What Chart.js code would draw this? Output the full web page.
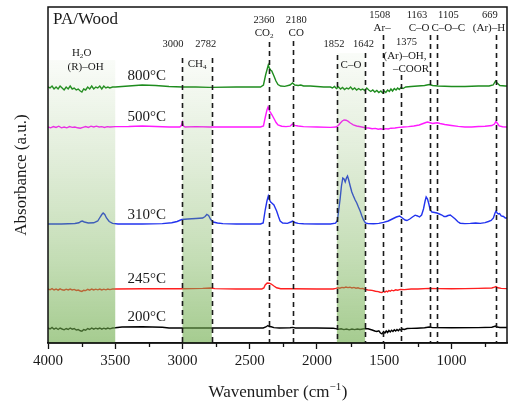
<!DOCTYPE html>
<html>
<head>
<meta charset="utf-8">
<script src="https://cdn.jsdelivr.net/npm/chart.js@4.4.1/dist/chart.umd.min.js"></script>
<style>
  html, body { margin: 0; padding: 0; background: #fff; }
  #wrap { width: 509px; height: 408px; }
</style>
</head>
<body>
<div id="wrap"><canvas id="c" width="509" height="408"></canvas></div>
<script>
// FTIR spectra of evolved gases from PA/Wood at different temperatures.
// Each spectrum: [wavenumber (cm-1), absorbance relative to its own baseline].
const temperatures = ['200°C', '245°C', '310°C', '500°C', '800°C'];
const offsets = [0.15, 0.54, 1.19, 2.16, 2.56];   // vertical stacking of the traces
const colors = ['#000000', '#ff1f1f', '#2233ee', '#ff1aff', '#1e8c1e'];

const spec200 = [
  [4000,0.00],[3985,-0.01],[3970,0.005],[3955,-0.012],[3940,0.0],[3925,-0.015],[3910,0.0],[3895,-0.01],
  [3880,-0.018],[3865,-0.005],[3850,-0.015],[3835,0.0],[3820,-0.012],[3805,-0.005],[3790,-0.02],[3775,-0.015],
  [3760,-0.028],[3748,-0.032],[3735,-0.015],[3720,-0.022],[3705,-0.005],[3690,-0.015],[3675,0.0],[3660,-0.012],
  [3645,-0.002],[3630,-0.01],[3615,0.0],[3600,-0.012],[3585,-0.002],[3570,-0.01],[3555,0.0],[3540,-0.008],
  [3520,0.0],[3500,0.002],[3450,0.01],[3300,0.012],[3150,0.008],[3100,0.0],[2900,0.0],[2600,0.0],
  [2400,0.0],[2380,0.01],[2365,0.025],[2355,0.015],[2340,0.012],[2320,0.004],[2280,0.0],[2200,0.002],
  [2180,0.006],[2160,0.0],[2000,0.0],[1880,-0.002],[1860,-0.006],[1840,-0.012],[1820,-0.008],[1800,-0.016],
  [1780,-0.01],[1760,-0.018],[1740,-0.01],[1720,-0.016],[1700,-0.01],[1680,-0.015],[1660,-0.01],[1645,-0.006],
  [1620,-0.008],[1590,-0.02],[1570,-0.03],[1555,-0.035],[1540,-0.028],[1528,-0.05],[1517,-0.058],[1505,-0.035],
  [1495,-0.05],[1485,-0.03],[1475,-0.045],[1465,-0.025],[1455,-0.04],[1445,-0.022],[1435,-0.035],[1425,-0.018],
  [1415,-0.03],[1405,-0.015],[1395,-0.028],[1385,-0.012],[1375,-0.022],[1365,-0.01],[1350,-0.015],[1330,-0.005],
  [1300,-0.004],[1257,-0.002],[1200,0.002],[1165,0.01],[1140,0.004],[1000,0.003],[800,0.004],[700,0.008],
  [672,0.02],[660,0.01],[640,0.005],[587,0.005]
];

const spec245 = [
  [4000,0.00],[3985,-0.008],[3970,0.004],[3955,-0.01],[3940,0.0],[3925,-0.012],[3910,0.002],[3895,-0.008],
  [3880,-0.012],[3865,-0.002],[3850,-0.01],[3835,0.0],[3820,-0.01],[3805,-0.004],[3790,-0.014],[3775,-0.01],
  [3760,-0.02],[3748,-0.024],[3735,-0.012],[3720,-0.016],[3705,-0.004],[3690,-0.012],[3675,0.0],[3660,-0.01],
  [3645,-0.002],[3630,-0.008],[3615,0.0],[3600,-0.01],[3585,-0.002],[3570,-0.008],[3555,0.0],[3540,-0.006],
  [3520,0.0],[3500,0.0],[3300,0.002],[3000,0.002],[2850,0.006],[2790,0.01],[2760,0.004],[2600,0.0],
  [2410,0.0],[2395,0.01],[2385,0.04],[2370,0.06],[2355,0.058],[2340,0.05],[2320,0.03],[2300,0.012],
  [2270,0.003],[2180,0.002],[2000,0.0],[1880,0.0],[1860,0.006],[1845,0.012],[1830,0.008],[1815,0.016],
  [1800,0.012],[1785,0.02],[1770,0.014],[1755,0.018],[1740,0.01],[1725,0.016],[1710,0.008],[1695,0.012],
  [1680,0.004],[1660,0.006],[1645,-0.004],[1620,-0.01],[1590,-0.014],[1565,-0.022],[1545,-0.026],[1530,-0.032],
  [1517,-0.036],[1505,-0.025],[1495,-0.032],[1485,-0.02],[1475,-0.028],[1465,-0.016],[1455,-0.022],[1445,-0.012],
  [1430,-0.018],[1415,-0.008],[1400,-0.012],[1380,-0.004],[1350,-0.006],[1300,0.0],[1250,0.0],[1165,0.006],
  [1100,0.004],[1000,0.003],[900,0.004],[800,0.006],[700,0.01],[680,0.018],[669,0.025],[655,0.012],
  [630,0.006],[587,0.004]
];

const spec310 = [
  [4000,0.0],[3900,0.0],[3800,0.005],[3770,0.012],[3755,0.025],[3745,0.03],[3730,0.02],[3700,0.01],
  [3660,0.012],[3630,0.03],[3612,0.07],[3600,0.095],[3590,0.11],[3578,0.095],[3565,0.06],[3545,0.025],
  [3520,0.006],[3480,0.0],[3300,0.0],[3150,0.004],[3080,0.012],[3040,0.025],[3005,0.045],[2960,0.05],
  [2900,0.055],[2850,0.06],[2832,0.075],[2819,0.095],[2806,0.085],[2790,0.045],[2772,0.02],[2740,0.01],
  [2700,0.004],[2600,0.0],[2420,0.0],[2400,0.01],[2385,0.14],[2372,0.23],[2362,0.28],[2354,0.245],
  [2344,0.22],[2336,0.21],[2320,0.19],[2310,0.16],[2300,0.13],[2285,0.07],[2274,0.03],[2255,0.01],
  [2220,0.006],[2195,0.02],[2180,0.03],[2165,0.015],[2140,0.006],[2100,0.002],[2000,0.0],[1900,0.0],
  [1862,0.008],[1848,0.035],[1838,0.14],[1828,0.25],[1818,0.38],[1808,0.46],[1799,0.45],[1790,0.42],
  [1781,0.46],[1773,0.48],[1764,0.44],[1753,0.38],[1741,0.32],[1729,0.28],[1716,0.24],[1704,0.21],
  [1692,0.17],[1679,0.13],[1666,0.08],[1654,0.04],[1640,0.012],[1620,0.004],[1580,0.002],[1540,0.006],
  [1505,0.016],[1470,0.03],[1440,0.05],[1410,0.07],[1386,0.08],[1365,0.06],[1345,0.04],[1331,0.035],
  [1310,0.05],[1290,0.07],[1270,0.088],[1252,0.08],[1238,0.07],[1222,0.09],[1208,0.15],[1196,0.23],
  [1188,0.27],[1178,0.25],[1168,0.2],[1158,0.14],[1145,0.12],[1125,0.115],[1108,0.11],[1090,0.1],
  [1071,0.09],[1055,0.075],[1040,0.075],[1025,0.085],[1009,0.09],[990,0.07],[972,0.05],[952,0.022],
  [935,0.008],[900,0.004],[860,0.006],[820,0.01],[786,0.006],[750,0.014],[725,0.025],[705,0.035],
  [688,0.06],[676,0.11],[668,0.13],[660,0.11],[652,0.1],[642,0.105],[630,0.08],[613,0.075],[600,0.06],
  [587,0.06]
];

const spec500 = [
  [4000,0.0],[3980,-0.008],[3960,0.004],[3940,-0.004],[3920,0.008],[3900,-0.008],[3880,0.0],[3860,-0.008],
  [3840,0.004],[3820,-0.004],[3800,0.0],[3780,-0.008],[3760,-0.012],[3740,-0.004],[3720,0.004],[3700,-0.004],
  [3680,0.008],[3660,0.0],[3640,0.008],[3620,0.0],[3600,0.004],[3580,-0.004],[3560,0.004],[3540,0.0],
  [3500,0.004],[3400,0.005],[3300,0.01],[3200,0.005],[3100,0.0],[3020,0.0],[3008,0.015],[3001,0.05],
  [2994,0.012],[2980,0.0],[2900,0.004],[2800,0.0],[2600,0.0],[2420,0.0],[2398,0.01],[2384,0.1],
  [2372,0.17],[2364,0.2],[2356,0.17],[2346,0.145],[2334,0.12],[2318,0.08],[2304,0.045],[2290,0.02],
  [2262,0.008],[2230,0.004],[2200,0.008],[2182,0.03],[2166,0.016],[2140,0.01],[2100,0.004],[2000,0.0],
  [1900,-0.004],[1860,0.0],[1842,0.015],[1826,0.04],[1812,0.06],[1798,0.07],[1784,0.068],[1770,0.058],
  [1752,0.04],[1730,0.022],[1705,0.01],[1675,0.002],[1642,-0.008],[1615,-0.01],[1590,-0.018],[1565,-0.014],
  [1545,-0.022],[1525,-0.018],[1507,-0.025],[1490,-0.016],[1470,-0.02],[1450,-0.012],[1420,-0.01],[1390,-0.004],
  [1359,0.0],[1320,0.004],[1280,0.01],[1240,0.02],[1210,0.035],[1190,0.045],[1178,0.05],[1165,0.045],
  [1140,0.035],[1120,0.04],[1105,0.042],[1085,0.035],[1050,0.025],[1000,0.015],[950,0.006],[900,0.0],
  [850,0.0],[800,0.005],[750,0.008],[700,0.015],[680,0.03],[670,0.055],[660,0.04],[645,0.01],[620,0.002],
  [587,0.0]
];

const spec800 = [
  [4000,0.00],[3985,-0.01],[3970,0.01],[3955,-0.02],[3940,0.0],[3925,-0.02],[3910,0.01],[3895,-0.01],
  [3880,-0.03],[3865,0.0],[3850,-0.02],[3835,0.01],[3820,-0.02],[3805,-0.01],[3790,-0.03],[3775,-0.02],
  [3760,-0.04],[3748,-0.05],[3735,-0.02],[3720,-0.03],[3705,0.0],[3690,-0.02],[3675,0.01],[3660,-0.02],
  [3645,0.0],[3630,-0.01],[3615,0.01],[3600,-0.02],[3585,0.01],[3570,-0.01],[3555,0.0],[3540,-0.01],
  [3520,0.0],[3500,0.0],[3400,0.01],[3300,0.02],[3200,0.015],[3100,0.005],[3000,0.0],[2900,0.0],
  [2800,-0.004],[2600,0.0],[2420,0.0],[2398,0.02],[2382,0.12],[2370,0.18],[2362,0.22],[2355,0.19],
  [2345,0.17],[2336,0.16],[2320,0.11],[2305,0.06],[2290,0.025],[2270,0.01],[2240,0.006],[2200,0.02],
  [2182,0.04],[2165,0.02],[2140,0.015],[2120,0.02],[2100,0.01],[2050,0.01],[2000,0.005],[1950,0.0],
  [1900,0.0],[1885,-0.01],[1870,0.005],[1855,-0.015],[1840,0.0],[1825,-0.02],[1810,-0.005],[1795,-0.025],
  [1780,-0.01],[1765,-0.02],[1750,0.0],[1735,-0.025],[1720,-0.01],[1705,-0.03],[1690,-0.015],[1675,-0.03],
  [1660,-0.02],[1645,-0.035],[1630,-0.01],[1615,-0.03],[1600,-0.045],[1585,-0.03],[1570,-0.05],[1555,-0.035],
  [1540,-0.055],[1525,-0.04],[1512,-0.06],[1500,-0.04],[1488,-0.055],[1475,-0.03],[1462,-0.045],[1450,-0.02],
  [1438,-0.04],[1425,-0.015],[1412,-0.03],[1400,-0.01],[1388,-0.025],[1375,-0.005],[1360,-0.015],[1340,0.0],
  [1300,0.005],[1250,0.01],[1200,0.015],[1165,0.025],[1140,0.015],[1100,0.01],[1000,0.005],[900,0.005],
  [800,0.01],[720,0.01],[690,0.02],[672,0.06],[660,0.04],[640,0.015],[600,0.01],[587,0.01]
];

const spectra = [spec200, spec245, spec310, spec500, spec800];

// Axis ticks (wavenumber, reversed axis)
const xMajorTicks = [4000, 3500, 3000, 2500, 2000, 1500, 1000];
const xMinorTicks = [3750, 3250, 2750, 2250, 1750, 1250, 750];

// Highlighted bands [from, to]
const bands = [[4000, 3500], [3000, 2782], [1852, 1642]];

// Assigned peak positions (dashed markers) and their labels ("|" toggles subscript)
const peakLines = [3000, 2782, 2360, 2180, 1852, 1642, 1508, 1375, 1163, 1105, 669];
const peakTexts = [
  ['3000'], ['2782'], ['2360', 'CO|2'], ['2180', 'CO'], ['1852'], ['1642'],
  ['1508', 'Ar–'], ['1375', '(Ar)–OH,', '–COOR'], ['1163', 'C–O'], ['1105', 'C–O–C'], ['669', '(Ar)–H']
];
const bandTexts = [['H|2|O', '(R)–OH'], ['CH|4'], ['C–O']];

const SERIF = '"Liberation Serif", "Times New Roman", serif';

// --- placement of annotation texts (pixel offsets relative to the marker line) ---
const peakLayout = {
  3000: { dx: -9.5, ys: [44], top: 58 },
  2782: { dx: -6, ys: [44], top: 58 },
  2360: { dx: -4.5, ys: [20, 33], top: 42 },
  2180: { dx: 3.5, ys: [20, 33], top: 41 },
  1852: { dx: -3, ys: [44], top: 55 },
  1642: { dx: -1.5, ys: [44], top: 53 },
  1508: { dx: -3.5, ys: [15, 28], top: 35, dxs: [-3.5, -1] },
  1375: { dx: 5.5, ys: [42, 56, 69], top: 75, dxs: [5.5, 4, 10] },
  1163: { dx: -12.5, ys: [15, 28], top: 35, dxs: [-12.5, -10.5] },
  1105: { dx: 11, ys: [15, 28], top: 35 },
  669: { dx: -6, ys: [15, 28], top: 35, dxs: [-6, -7] }
};
const bandLayout = [
  { top: 60, ys: [53, 67], dxs: [0, 4] },
  { top: 60, ys: [64], dxs: [0] },
  { top: 53, ys: [65], dxs: [0] }
];
const tempLabelWn = 3265;
const tempLabelDy = [-11, -10, -9, -10, -11];

// Draw centred text whose odd "|" segments are subscripts
function drawRich(ctx, text, cx, cy, size) {
  const segs = text.split('|');
  const subSize = size * 0.65;
  const widths = segs.map((s, k) => {
    ctx.font = (k % 2 ? subSize : size) + 'px ' + SERIF;
    return ctx.measureText(s).width;
  });
  let xPos = cx - widths.reduce((p, q) => p + q, 0) / 2;
  ctx.textAlign = 'left';
  ctx.textBaseline = 'middle';
  segs.forEach((s, k) => {
    ctx.font = (k % 2 ? subSize : size) + 'px ' + SERIF;
    ctx.fillText(s, xPos, cy + (k % 2 ? size * 0.3 : 0));
    xPos += widths[k];
  });
}

const decorations = {
  id: 'decorations',
  afterDatasetsDraw(chart) {
    const { ctx, chartArea: a, scales: { x } } = chart;
    ctx.save();
    // shaded bands (translucent, over the traces)
    bands.forEach((b, i) => {
      const top = bandLayout[i].top;
      const x1 = x.getPixelForValue(b[0]), x2 = x.getPixelForValue(b[1]);
      const g = ctx.createLinearGradient(0, top, 0, a.bottom);
      g.addColorStop(0, 'rgba(120,175,85,0.04)');
      g.addColorStop(0.35, 'rgba(120,175,85,0.22)');
      g.addColorStop(0.7, 'rgba(115,175,80,0.42)');
      g.addColorStop(1, 'rgba(110,172,75,0.62)');
      ctx.fillStyle = g;
      ctx.fillRect(Math.min(x1, x2), top, Math.abs(x2 - x1), a.bottom - top);
    });
    // dashed peak markers
    ctx.strokeStyle = '#1a1a1a';
    ctx.lineWidth = 1.6;
    ctx.setLineDash([5, 4]);
    peakLines.forEach(wn => {
      const px = Math.round(x.getPixelForValue(wn)) + 0.5;
      ctx.beginPath();
      ctx.moveTo(px, peakLayout[wn].top);
      ctx.lineTo(px, a.bottom);
      ctx.stroke();
    });
    ctx.setLineDash([]);
    ctx.restore();
  },
  afterDraw(chart) {
    const { ctx, chartArea: a, scales: { x, y } } = chart;
    ctx.save();
    // frame
    ctx.strokeStyle = '#111';
    ctx.lineWidth = 1.5;
    ctx.strokeRect(a.left, a.top, a.right - a.left, a.bottom - a.top);
    // minor ticks
    ctx.lineWidth = 1.3;
    xMinorTicks.forEach(v => {
      const px = Math.round(x.getPixelForValue(v)) + 0.5;
      ctx.beginPath();
      ctx.moveTo(px, a.bottom);
      ctx.lineTo(px, a.bottom + 4);
      ctx.stroke();
    });
    ctx.fillStyle = '#1a1a1a';
    // peak labels
    peakLines.forEach((wn, i) => {
      const L = peakLayout[wn];
      const px = x.getPixelForValue(wn);
      peakTexts[i].forEach((t, j) => {
        const dx = L.dxs ? L.dxs[j] : L.dx;
        drawRich(ctx, t, px + dx, L.ys[j], j === 0 ? 10.5 : 11);
      });
    });
    // band labels
    bands.forEach((b, i) => {
      const cx = (x.getPixelForValue(b[0]) + x.getPixelForValue(b[1])) / 2;
      bandTexts[i].forEach((t, j) => {
        drawRich(ctx, t, cx + bandLayout[i].dxs[j], bandLayout[i].ys[j], 11);
      });
    });
    // temperature labels
    ctx.font = '15px ' + SERIF;
    ctx.textAlign = 'center';
    ctx.textBaseline = 'middle';
    temperatures.forEach((t, i) => {
      ctx.fillText(t, x.getPixelForValue(tempLabelWn), y.getPixelForValue(offsets[i]) + tempLabelDy[i]);
    });
    // sample name
    ctx.font = '17px ' + SERIF;
    ctx.textAlign = 'left';
    ctx.fillText('PA/Wood', a.left + 5, 20);
    // axis titles
    const tx = 269;
    ctx.font = '17px ' + SERIF;
    ctx.textAlign = 'center';
    ctx.fillText('Wavenumber (cm', tx, 393);
    const w = ctx.measureText('Wavenumber (cm').width;
    ctx.font = '11px ' + SERIF;
    ctx.textAlign = 'left';
    ctx.fillText('−1', tx + w / 2, 387);
    const w2 = ctx.measureText('−1').width;
    ctx.font = '17px ' + SERIF;
    ctx.fillText(')', tx + w / 2 + w2 + 0.5, 393);
    ctx.save();
    ctx.translate(22, (a.top + a.bottom) / 2);
    ctx.rotate(-Math.PI / 2);
    ctx.textAlign = 'center';
    ctx.fillText('Absorbance (a.u.)', 0, 0);
    ctx.restore();
    ctx.restore();
  }
};

new Chart(document.getElementById('c'), {
  type: 'line',
  data: {
    datasets: spectra.map((s, i) => ({
      label: temperatures[i],
      data: s.map(([wn, ab]) => ({ x: wn, y: ab + offsets[i] })),
      borderColor: colors[i],
      borderWidth: 1.4,
      pointRadius: 0,
      tension: 0,
      fill: false
    }))
  },
  options: {
    responsive: false,
    devicePixelRatio: 1,
    animation: false,
    layout: { padding: { left: 48, right: 2, top: 7, bottom: 0 } },
    plugins: { legend: { display: false }, tooltip: { enabled: false } },
    scales: {
      x: {
        type: 'linear',
        reverse: true,
        min: 587,
        max: 4000,
        afterBuildTicks: axis => { axis.ticks = xMajorTicks.map(v => ({ value: v })); },
        afterFit: s => { s.height = 65; },
        ticks: {
          autoSkip: false,
          maxRotation: 0,
          padding: 3,
          color: '#1a1a1a',
          font: { family: SERIF, size: 15 },
          callback: v => String(v)
        },
        grid: { drawOnChartArea: false, drawTicks: true, tickLength: 6, tickColor: '#111', tickWidth: 1.3 },
        border: { display: true, color: '#111', width: 1.5 }
      },
      y: {
        display: false,
        min: 0,
        max: 3.36
      }
    }
  },
  plugins: [decorations]
});
</script>
</body>
</html>
